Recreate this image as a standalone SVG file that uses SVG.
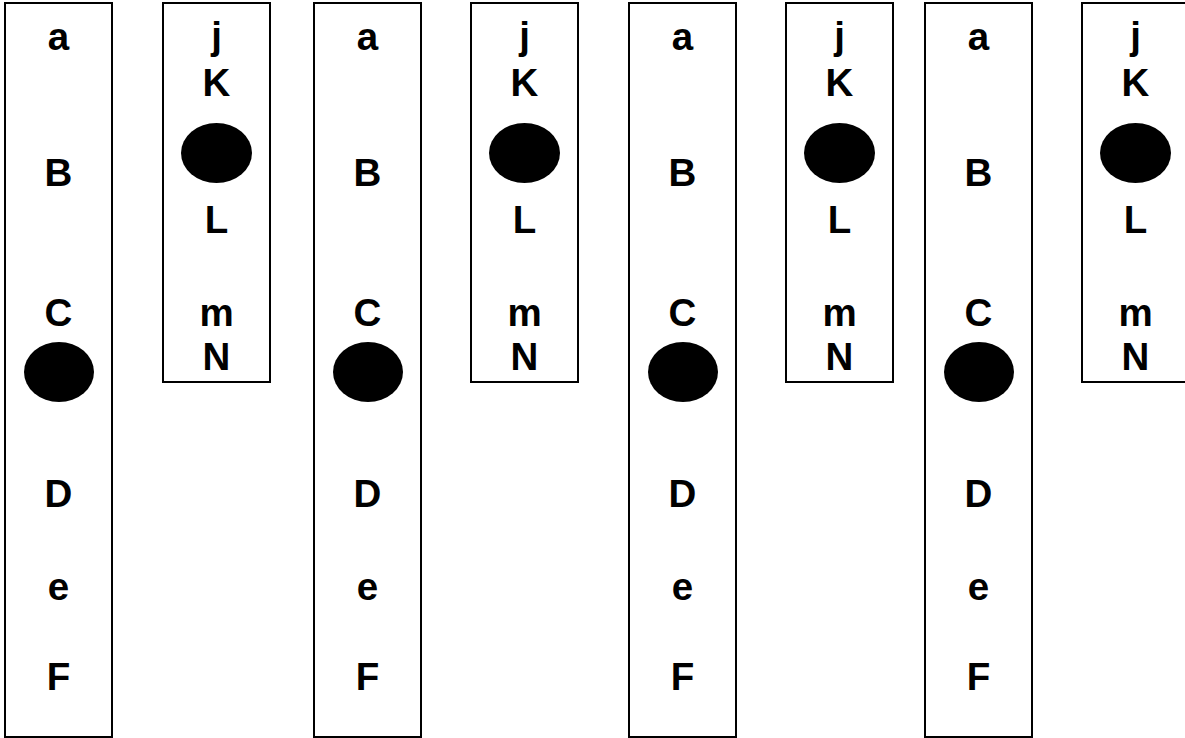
<svg xmlns="http://www.w3.org/2000/svg" width="1185" height="738" viewBox="0 0 1185 738">
<style>
.box{fill:#fff;stroke:#000;stroke-width:2}
.dot{fill:#000}
text{font-family:"Liberation Sans",Arial,sans-serif;font-weight:bold;font-size:38.5px;fill:#000;text-anchor:middle}
</style>
<rect width="1185" height="738" fill="#fff"/>
<g id="tall1" transform="translate(5,0)">
<rect class="box" x="0" y="3" width="107" height="734"/>
<text x="53.5" y="50">a</text><text x="53.5" y="186">B</text><text x="53.5" y="326">C</text>
<ellipse class="dot" cx="54" cy="372" rx="35" ry="30"/>
<text x="53.5" y="507">D</text><text x="53.5" y="600">e</text><text x="53.5" y="690">F</text>
</g>
<g id="short1" transform="translate(163,0)">
<rect class="box" x="0" y="3" width="107" height="379"/>
<text x="53.5" y="49">j</text><text x="53.5" y="96">K</text>
<ellipse class="dot" cx="53.5" cy="153" rx="35.5" ry="30"/>
<text x="53.5" y="233">L</text><text x="53.5" y="326">m</text><text x="53.5" y="370">N</text>
</g>
<g id="tall2" transform="translate(314,0)">
<rect class="box" x="0" y="3" width="107" height="734"/>
<text x="53.5" y="50">a</text><text x="53.5" y="186">B</text><text x="53.5" y="326">C</text>
<ellipse class="dot" cx="54" cy="372" rx="35" ry="30"/>
<text x="53.5" y="507">D</text><text x="53.5" y="600">e</text><text x="53.5" y="690">F</text>
</g>
<g id="short2" transform="translate(471,0)">
<rect class="box" x="0" y="3" width="107" height="379"/>
<text x="53.5" y="49">j</text><text x="53.5" y="96">K</text>
<ellipse class="dot" cx="53.5" cy="153" rx="35.5" ry="30"/>
<text x="53.5" y="233">L</text><text x="53.5" y="326">m</text><text x="53.5" y="370">N</text>
</g>
<g id="tall3" transform="translate(629,0)">
<rect class="box" x="0" y="3" width="107" height="734"/>
<text x="53.5" y="50">a</text><text x="53.5" y="186">B</text><text x="53.5" y="326">C</text>
<ellipse class="dot" cx="54" cy="372" rx="35" ry="30"/>
<text x="53.5" y="507">D</text><text x="53.5" y="600">e</text><text x="53.5" y="690">F</text>
</g>
<g id="short3" transform="translate(786,0)">
<rect class="box" x="0" y="3" width="107" height="379"/>
<text x="53.5" y="49">j</text><text x="53.5" y="96">K</text>
<ellipse class="dot" cx="53.5" cy="153" rx="35.5" ry="30"/>
<text x="53.5" y="233">L</text><text x="53.5" y="326">m</text><text x="53.5" y="370">N</text>
</g>
<g id="tall4" transform="translate(925,0)">
<rect class="box" x="0" y="3" width="107" height="734"/>
<text x="53.5" y="50">a</text><text x="53.5" y="186">B</text><text x="53.5" y="326">C</text>
<ellipse class="dot" cx="54" cy="372" rx="35" ry="30"/>
<text x="53.5" y="507">D</text><text x="53.5" y="600">e</text><text x="53.5" y="690">F</text>
</g>
<g id="short4" transform="translate(1082,0)">
<rect class="box" x="0" y="3" width="107" height="379"/>
<text x="53.5" y="49">j</text><text x="53.5" y="96">K</text>
<ellipse class="dot" cx="53.5" cy="153" rx="35.5" ry="30"/>
<text x="53.5" y="233">L</text><text x="53.5" y="326">m</text><text x="53.5" y="370">N</text>
</g>
<g id="connectors"/>
</svg>
